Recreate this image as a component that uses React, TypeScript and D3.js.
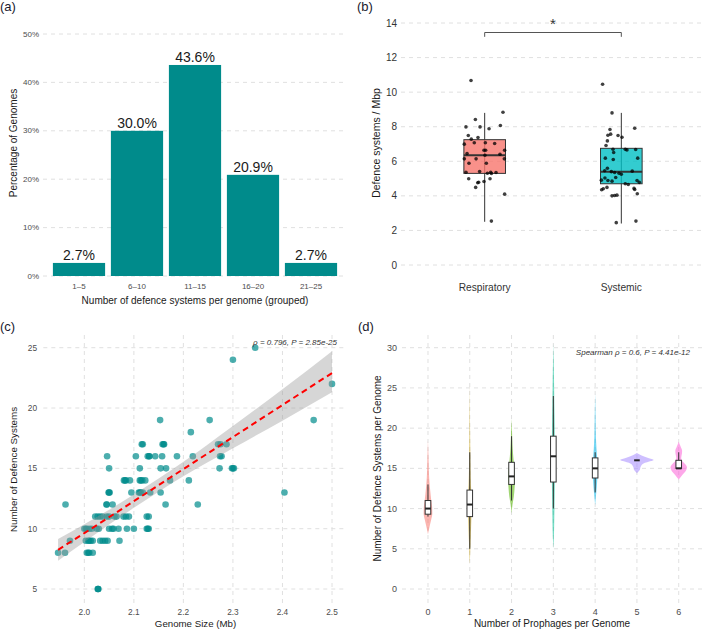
import React from "react";
import * as d3 from "d3";

const W = 704;
const H = 629;
const FONT = "'Liberation Sans', Arial, sans-serif";
const GRID = "#DCDCDC";
const TICK = "#4D4D4D";

// (a) share of genomes per defence-system bin
const binLabels = ["1–5", "6–10", "11–15", "16–20", "21–25"];
const binPercent = [2.7, 30.0, 43.6, 20.9, 2.7];
const percentTicks = [0, 10, 20, 30, 40, 50];

// (b) defence systems per Mbp by isolation site
const sites = ["Respiratory", "Systemic"];
const siteColors = ["#F8766D", "#00BFC4"];
const siteQ1 = [5.3, 4.7];
const siteMedian = [6.35, 5.4];
const siteQ3 = [7.25, 6.75];
const siteLow = [2.5, 2.4];
const siteHigh = [8.8, 8.8];
const densityTicks = [0, 2, 4, 6, 8, 10, 12, 14];

// jitter offset (category units), value
const respiratoryPts: [number, number][] = [
  [-0.1, 10.67], [0.134, 8.84], [-0.068, 8.42], [-0.137, 7.99], [-0.034, 7.99],
  [0.032, 7.88], [0.115, 8.07], [-0.12, 7.49], [-0.098, 7.28], [-0.049, 7.37],
  [-0.149, 6.99], [-0.076, 7.07], [0.005, 7.07], [0.073, 7.03], [-0.005, 6.64],
  [0.007, 6.64], [-0.129, 6.45], [0.002, 6.35], [0.112, 6.41], [0.146, 6.64],
  [-0.149, 6.14], [-0.063, 6.14], [0.144, 6.14], [-0.115, 5.89], [0.012, 5.89],
  [-0.137, 5.37], [-0.037, 5.41], [0.02, 5.31], [0.044, 5.37], [0.049, 5.29],
  [0.083, 5.35], [-0.117, 4.99], [-0.044, 4.79], [-0.005, 4.83], [0.039, 4.99],
  [-0.066, 4.49], [-0.051, 4.76], [0.146, 4.1], [0.049, 2.54],
];
const systemicPts: [number, number][] = [
  [-0.137, 10.46], [-0.068, 8.8], [0.098, 7.91], [-0.083, 7.84], [-0.078, 7.57],
  [-0.098, 7.51], [-0.024, 7.49], [0.005, 7.39], [-0.102, 7.18], [-0.112, 6.91],
  [-0.061, 6.7], [-0.056, 6.51], [0.029, 6.7], [0.041, 6.66], [0.105, 6.68],
  [-0.117, 6.18], [-0.059, 6.1], [0.12, 6.18], [-0.102, 5.6], [-0.122, 5.45],
  [-0.073, 5.4], [-0.049, 5.35], [-0.017, 5.31], [0, 5.25], [0.08, 5.43],
  [-0.12, 5.03], [-0.041, 5.06], [-0.146, 4.91], [-0.098, 4.89], [-0.068, 4.85],
  [0.115, 4.89], [0.051, 4.66], [0.029, 4.7], [0.132, 4.78], [-0.105, 4.49],
  [-0.132, 4.41], [-0.144, 4.35], [0.093, 4.43], [0.098, 4.37], [0.117, 4.12],
  [-0.068, 4.0], [-0.049, 4.02], [-0.032, 4.04], [-0.037, 2.45], [0.107, 2.54],
];

// (c) genome size (Mb) grouped by number of defence systems
const sizeByCount: [number, number[]][] = [
  [25, [2.345]],
  [24, [2.3]],
  [22, [2.5]],
  [19, [2.153, 2.253, 2.463]],
  [18, [2.215]],
  [17, [2.116, 2.118, 2.158, 2.16, 2.161, 2.27, 2.275, 2.287]],
  [16, [2.046, 2.104, 2.128, 2.131, 2.131, 2.143, 2.157, 2.187, 2.219, 2.274, 2.277]],
  [15, [2.05, 2.112, 2.154, 2.165, 2.273, 2.298, 2.3, 2.302]],
  [14, [2.08, 2.082, 2.084, 2.092, 2.112, 2.114, 2.117, 2.123, 2.173, 2.211]],
  [13, [2.049, 2.05, 2.051, 2.095, 2.11, 2.112, 2.114, 2.118, 2.133, 2.154, 2.404]],
  [12, [1.962, 2.045, 2.045, 2.057, 2.164, 2.229]],
  [11, [2.022, 2.027, 2.032, 2.037, 2.045, 2.05, 2.061, 2.065, 2.079, 2.084, 2.09, 2.126, 2.13]],
  [10, [2.0, 2.003, 2.005, 2.01, 2.015, 2.025, 2.029, 2.05, 2.056, 2.059, 2.069, 2.086, 2.1, 2.126, 2.128, 2.13]],
  [9, [1.971, 2.003, 2.008, 2.01, 2.013, 2.017, 2.032, 2.037, 2.042, 2.047, 2.071]],
  [8, [1.947, 1.961, 2.005, 2.008, 2.01, 2.017]],
  [5, [2.027, 2.028, 2.028]],
];
const sizeTicks = [2.0, 2.1, 2.2, 2.3, 2.4, 2.5];
const countTicks = [5, 10, 15, 20, 25];

// linear fit with 95% band
const fitX = [1.947, 2.0, 2.05, 2.1, 2.15, 2.2, 2.3, 2.4, 2.5];
const fitY = [8.25, 9.63, 10.95, 12.28, 13.61, 14.94, 17.59, 20.25, 22.9];
const fitLow = [7.35, 8.89, 10.34, 11.73, 13.06, 14.34, 16.66, 18.95, 21.3];
const fitHigh = [9.15, 10.37, 11.56, 12.83, 14.16, 15.54, 18.52, 21.55, 24.7];

// (d) defence systems by number of prophages
const prophages = ["0", "1", "2", "3", "4", "5", "6"];
const prophageColors = ["#F8766D", "#C49A00", "#53B400", "#00C094", "#00B6EB", "#A58AFF", "#FB61D7"];
const phQ1 = [9.3, 9, 13, 13.3, 13.8, 16, 15];
const phMedian = [10, 10.5, 14, 16.5, 15, 16, 15];
const phQ3 = [11, 12.3, 15.75, 19, 16.3, 16, 16];
const phLow = [9, 5, 11, 10, 12, 16, 15];
const phHigh = [13, 17, 19, 24, 17, 16, 17];
const phTicks = [0, 5, 10, 15, 20, 25, 30];

// violin outlines: [value, half-width as share of the slot]
const violinProfiles: [number, number][][] = [
  [[6.8, 0], [7.7, 0.08], [8.6, 0.17], [9.4, 0.23], [10.2, 0.22], [11.1, 0.17], [12.2, 0.12], [13.2, 0.08], [14.5, 0.05], [15.5, 0.04], [17, 0.02], [18.5, 0]],
  [[3, 0], [5, 0.03], [7, 0.06], [8.5, 0.08], [10, 0.1], [11.5, 0.09], [13, 0.06], [15, 0.04], [17, 0.03], [19, 0.02], [22, 0.01], [25.5, 0]],
  [[9.4, 0], [10.5, 0.05], [11.5, 0.12], [12.5, 0.16], [13.5, 0.18], [14.5, 0.17], [15.5, 0.13], [16.5, 0.09], [17.5, 0.06], [18.5, 0.04], [19.5, 0.025], [21.2, 0]],
  [[5, 0], [7, 0.035], [9, 0.05], [11, 0.065], [13, 0.075], [15, 0.08], [17, 0.08], [19, 0.075], [21, 0.065], [23, 0.05], [26, 0.035], [28, 0.02], [30.5, 0]],
  [[10.4, 0], [11.5, 0.04], [12.5, 0.08], [13.5, 0.11], [14.5, 0.13], [15.5, 0.12], [16.5, 0.1], [17.5, 0.07], [19, 0.04], [21, 0.025], [24.3, 0]],
  [[14.4, 0], [14.8, 0.15], [15.2, 0.2], [15.6, 0.35], [15.9, 0.75], [16.05, 0.89], [16.3, 0.6], [16.6, 0.25], [16.9, 0]],
  [[13.6, 0], [14.2, 0.2], [14.7, 0.38], [15.1, 0.44], [15.5, 0.35], [15.9, 0.18], [16.3, 0.13], [16.8, 0.17], [17.2, 0.18], [17.6, 0.12], [18.0, 0.05], [18.3, 0]],
];

const dash = "4 4";

function PanelA() {
  const x = d3.scaleBand<string>().domain(binLabels).range([44.2, 345.8]).paddingInner(0.1).paddingOuter(0.15);
  const y = d3.scaleLinear().domain([0, 50]).range([276, 34]);
  return (
    <g>
      <text x={0} y={11} fontSize={13} fill="#1a1a2e">(a)</text>
      {percentTicks.map((t) => (
        <g key={t}>
          <line x1={43} x2={347} y1={y(t)} y2={y(t)} stroke={GRID} strokeWidth={0.9} strokeDasharray={dash} />
          <text x={39} y={y(t)} textAnchor="end" dominantBaseline="central" fontSize={8} fill={TICK}>{t}%</text>
        </g>
      ))}
      {binLabels.map((b, i) => (
        <g key={b}>
          <rect x={x(b)} y={y(binPercent[i])} width={x.bandwidth()} height={y(0) - y(binPercent[i])} fill="#008B8B" />
          <text x={x(b)! + x.bandwidth() / 2} y={y(binPercent[i]) - 2.5} textAnchor="middle" fontSize={14} fill="#1a1a1a">
            {binPercent[i].toFixed(1)}%
          </text>
          <text x={x(b)! + x.bandwidth() / 2} y={286} textAnchor="middle" dominantBaseline="central" fontSize={8} fill={TICK}>{b}</text>
        </g>
      ))}
      <text x={195} y={300} textAnchor="middle" dominantBaseline="central" fontSize={10} fill="#1a1a1a">
        Number of defence systems per genome (grouped)
      </text>
      <text transform={`translate(13.5,143) rotate(-90)`} textAnchor="middle" dominantBaseline="central" fontSize={10} fill="#1a1a1a">
        Percentage of Genomes
      </text>
    </g>
  );
}

function PanelB() {
  const x = d3.scalePoint<string>().domain(sites).range([402.7, 703.3]).padding(0.6);
  const step = x.step();
  const y = d3.scaleLinear().domain([0, 14]).range([265, 23]);
  const hw = 20.8;
  const ptsBySite = [respiratoryPts, systemicPts];
  return (
    <g>
      <text x={357} y={11} fontSize={13} fill="#1a1a2e">(b)</text>
      {densityTicks.map((t) => (
        <g key={t}>
          <line x1={401} x2={704} y1={y(t)} y2={y(t)} stroke={GRID} strokeWidth={0.9} strokeDasharray={dash} />
          <text x={397} y={y(t)} textAnchor="end" dominantBaseline="central" fontSize={10} fill="#333">{t}</text>
        </g>
      ))}
      {sites.map((s, i) => {
        const cx = x(s)!;
        return (
          <g key={s}>
            <line x1={cx} x2={cx} y1={y(siteLow[i])} y2={y(siteHigh[i])} stroke="#333" strokeWidth={1} />
            <rect x={cx - hw} y={y(siteQ3[i])} width={hw * 2} height={y(siteQ1[i]) - y(siteQ3[i])}
              fill={siteColors[i]} fillOpacity={0.8} stroke="#333" strokeWidth={1} />
            <line x1={cx - hw} x2={cx + hw} y1={y(siteMedian[i])} y2={y(siteMedian[i])} stroke="#333" strokeWidth={2} />
            {ptsBySite[i].map(([j, v], k) => (
              <circle key={k} cx={cx + j * step} cy={y(v)} r={1.8} fill="#000" fillOpacity={0.75} />
            ))}
            <text x={cx} y={287} textAnchor="middle" dominantBaseline="central" fontSize={10.2} fill="#333">{s}</text>
          </g>
        );
      })}
      {/* significance bracket */}
      <path d={`M${x(sites[0])},${y(13.2)}V${y(13.45)}H${x(sites[1])}V${y(13.2)}`} fill="none" stroke="#555" strokeWidth={1} />
      <text x={(x(sites[0])! + x(sites[1])!) / 2} y={y(13.45) - 4} textAnchor="middle" fontSize={15} fill="#333">*</text>
      <text transform={`translate(375.5,143) rotate(-90)`} textAnchor="middle" dominantBaseline="central" fontSize={10.5} fill="#1a1a1a">
        Defence systems / Mbp
      </text>
    </g>
  );
}

function PanelC() {
  const x = d3.scaleLinear().domain([2.0, 2.5]).range([84.33, 332]);
  const y = d3.scaleLinear().domain([5, 25]).range([589, 347.7]);
  const band = d3.area<number>().x((_, i) => x(fitX[i])).y0((_, i) => y(fitLow[i])).y1((_, i) => y(fitHigh[i])).curve(d3.curveMonotoneX);
  const fit = d3.line<number>().x((_, i) => x(fitX[i])).y((_, i) => y(fitY[i]));
  const pts = sizeByCount.flatMap(([c, sizes]) => sizes.map((s) => [s, c] as [number, number]));
  return (
    <g>
      <text x={0} y={331} fontSize={13} fill="#1a1a2e">(c)</text>
      {countTicks.map((t) => (
        <g key={t}>
          <line x1={43.3} x2={346.7} y1={y(t)} y2={y(t)} stroke={GRID} strokeWidth={0.9} strokeDasharray={dash} />
          <text x={37} y={y(t)} textAnchor="end" dominantBaseline="central" fontSize={8.3} fill={TICK}>{t}</text>
        </g>
      ))}
      {sizeTicks.map((t) => (
        <g key={t}>
          <line x1={x(t)} x2={x(t)} y1={335} y2={603} stroke={GRID} strokeWidth={0.9} strokeDasharray={dash} />
          <text x={x(t)} y={611.7} textAnchor="middle" dominantBaseline="central" fontSize={8.3} fill={TICK}>{t.toFixed(1)}</text>
        </g>
      ))}
      {pts.map(([s, c], k) => (
        <circle key={k} cx={x(s)} cy={y(c)} r={3.3} fill="#008B8B" fillOpacity={0.7} />
      ))}
      <path d={band(fitX)!} fill="#999" fillOpacity={0.4} />
      <path d={fit(fitX)!} fill="none" stroke="#FF0000" strokeWidth={2} strokeDasharray="6 4" />
      <text x={337} y={342.5} textAnchor="end" dominantBaseline="central" fontSize={8} fontStyle="italic" fill="#333">
        ρ = 0.796, P = 2.85e-25
      </text>
      <text x={195.5} y={623.5} textAnchor="middle" dominantBaseline="central" fontSize={9.7} fill="#1a1a1a">Genome Size (Mb)</text>
      <text transform={`translate(13.5,469.5) rotate(-90)`} textAnchor="middle" dominantBaseline="central" fontSize={9.8} fill="#1a1a1a">
        Number of Defence Systems
      </text>
    </g>
  );
}

function PanelD() {
  const x = d3.scalePoint<string>().domain(prophages).range([402.9, 703.8]).padding(0.6);
  const step = x.step();
  const y = d3.scaleLinear().domain([0, 30]).range([589, 347.7]);
  const maxHw = 0.45 * step;
  const bw = 2.8;
  return (
    <g>
      <text x={358} y={331} fontSize={13} fill="#1a1a2e">(d)</text>
      {phTicks.map((t) => (
        <g key={t}>
          <line x1={402} x2={704} y1={y(t)} y2={y(t)} stroke={GRID} strokeWidth={0.9} strokeDasharray={dash} />
          <text x={397} y={y(t)} textAnchor="end" dominantBaseline="central" fontSize={9} fill={TICK}>{t}</text>
        </g>
      ))}
      {prophages.map((p) => (
        <g key={p}>
          <line x1={x(p)} x2={x(p)} y1={335} y2={603} stroke={GRID} strokeWidth={0.9} strokeDasharray={dash} />
          <text x={x(p)} y={611.7} textAnchor="middle" dominantBaseline="central" fontSize={9} fill={TICK}>{p}</text>
        </g>
      ))}
      {prophages.map((p, i) => {
        const cx = x(p)!;
        const area = d3.area<[number, number]>()
          .y((d) => y(d[0]))
          .x0((d) => cx - d[1] * maxHw)
          .x1((d) => cx + d[1] * maxHw)
          .curve(d3.curveMonotoneY);
        return (
          <g key={p}>
            <path d={area(violinProfiles[i])!} fill={prophageColors[i]} fillOpacity={0.55} />
            {phHigh[i] > phQ3[i] && (
              <line x1={cx} x2={cx} y1={y(phQ3[i])} y2={y(phHigh[i])} stroke="#333" strokeWidth={1} />
            )}
            {phLow[i] < phQ1[i] && (
              <line x1={cx} x2={cx} y1={y(phQ1[i])} y2={y(phLow[i])} stroke="#333" strokeWidth={1} />
            )}
            {phQ3[i] > phQ1[i] && (
              <rect x={cx - bw} y={y(phQ3[i])} width={bw * 2} height={y(phQ1[i]) - y(phQ3[i])} fill="#fff" stroke="#333" strokeWidth={1} />
            )}
            <line x1={cx - bw} x2={cx + bw} y1={y(phMedian[i])} y2={y(phMedian[i])} stroke="#222" strokeWidth={2} />
          </g>
        );
      })}
      <text x={690} y={352.7} textAnchor="end" dominantBaseline="central" fontSize={8} fontStyle="italic" fill="#333">
        Spearman ρ = 0.6, P = 4.41e-12
      </text>
      <text x={552} y={623.5} textAnchor="middle" dominantBaseline="central" fontSize={10} fill="#1a1a1a">Number of Prophages per Genome</text>
      <text transform={`translate(377,468.5) rotate(-90)`} textAnchor="middle" dominantBaseline="central" fontSize={10} fill="#1a1a1a">
        Number of Defence Systems per Genome
      </text>
    </g>
  );
}

export default function App() {
  return (
    <svg width={W} height={H} style={{ position: "absolute", left: 0, top: 0, background: "#fff" }} fontFamily={FONT}>
      <rect width={W} height={H} fill="#fff" />
      <PanelA />
      <PanelB />
      <PanelC />
      <PanelD />
    </svg>
  );
}
